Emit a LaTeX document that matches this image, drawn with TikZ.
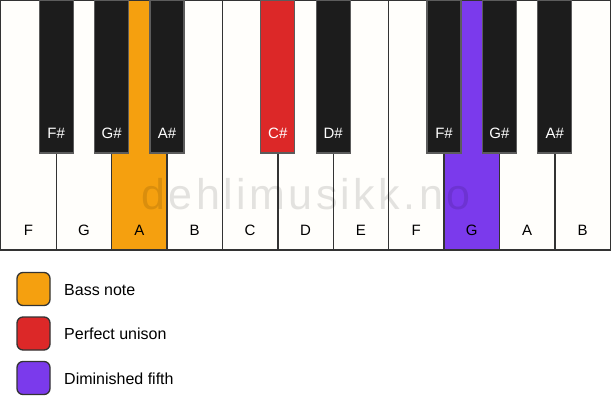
\documentclass[tikz,border=0pt]{standalone}
\usepackage{fontspec}
\setmainfont{Liberation Sans}
\newfontfamily\wmfont[LetterSpace=8]{Liberation Sans}
\definecolor{keywhite}{HTML}{FFFEFB}
\definecolor{keyblack}{HTML}{1C1C1C}
\definecolor{keyline}{HTML}{333333}
\definecolor{bassorange}{HTML}{F5A00F}
\definecolor{unisonred}{HTML}{DC2828}
\definecolor{fifthpurple}{HTML}{7B3AEC}
\tikzset{
  whitekey/.style={draw=keyline, line width=1.4pt, fill=keywhite},
  blackkey/.style={draw=keyline!80, line width=1.2pt, fill=keyblack},
  wlabel/.style={font=\fontsize{15}{15}\selectfont, text=black},
  blabel/.style={font=\fontsize{15}{15}\selectfont, text=white},
  legbox/.style={draw=keyline, line width=1.3pt, rounded corners=6pt, minimum width=33pt, minimum height=33pt, inner sep=0pt},
  legtext/.style={font=\fontsize{16}{16}\selectfont, anchor=west, inner sep=0pt},
}
\begin{document}
\begin{tikzpicture}[x=1pt,y=-1pt]
\useasboundingbox (0,0) rectangle (611,417);
\fill[white] (0,0) rectangle (611,417);
% white keys
\foreach \i/\n/\c in {0/F/keywhite,1/G/keywhite,2/A/bassorange,3/B/keywhite,4/C/keywhite,5/D/keywhite,6/E/keywhite,7/F/keywhite,8/G/fifthpurple,9/A/keywhite,10/B/keywhite}{
  \path[whitekey, fill=\c] (0.8+55.4*\i,0.8) rectangle (0.8+55.4*\i+55.4,250);
  \node[wlabel] (w\i) at (0.8+55.4*\i+27.7,230) {\n};
}
% black keys
\foreach \i/\n/\c in {1/F\#/keyblack,2/G\#/keyblack,3/A\#/keyblack,5/C\#/unisonred,6/D\#/keyblack,8/F\#/keyblack,9/G\#/keyblack,10/A\#/keyblack}{
  \path[blackkey, fill=\c] (0.8+55.4*\i-17,0.6) rectangle (0.8+55.4*\i+17,153);
  \node[blabel] (b\i) at (0.8+55.4*\i,133) {\n};
}
% watermark
\node[font=\wmfont\fontsize{43}{43}\selectfont, text=black, text opacity=0.11, inner sep=0pt] (wm) at (306,194) {dehlimusikk.no};
% legend
\node[legbox, fill=bassorange] (l1) at (33.5,289) {};
\node[legbox, fill=unisonred] (l2) at (33.5,333.5) {};
\node[legbox, fill=fifthpurple] (l3) at (33.5,378) {};
\node[legtext] (t1) at (64,290) {Bass note};
\node[legtext] (t2) at (64,334) {Perfect unison};
\node[legtext] (t3) at (64,379) {Diminished fifth};
\end{tikzpicture}
\end{document}
